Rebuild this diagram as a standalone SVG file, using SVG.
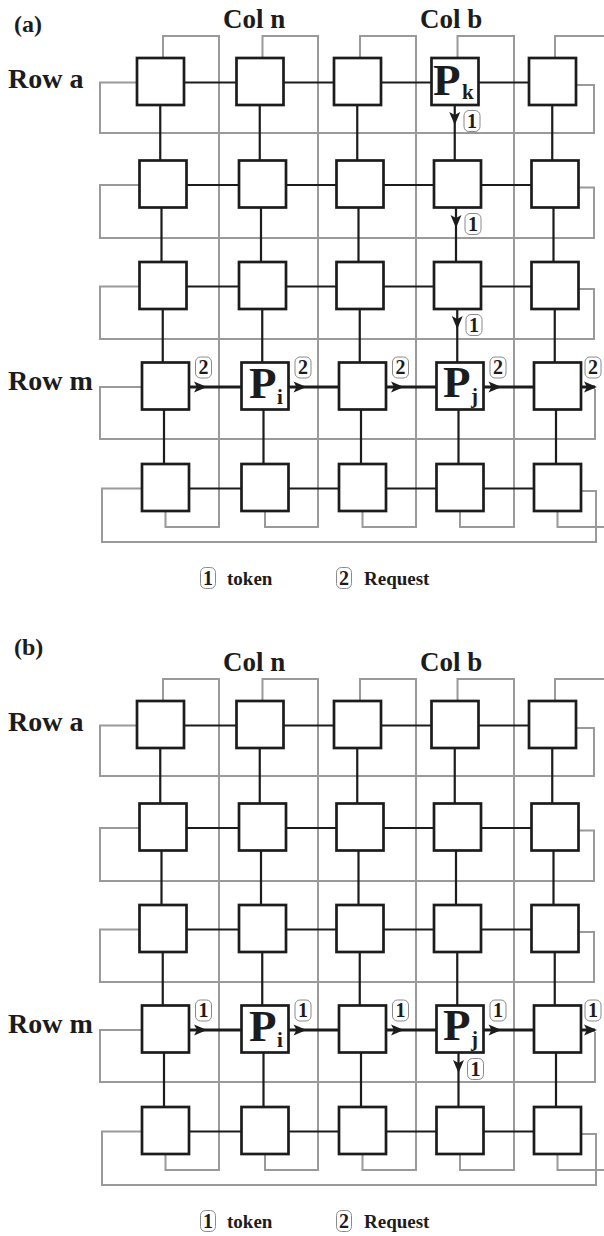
<svg xmlns="http://www.w3.org/2000/svg" width="604" height="1236" viewBox="0 0 604 1236">
  <style>
    .box { fill: #fff; stroke: #1c1c1c; stroke-width: 2.7; }
    .wire { fill: none; stroke: #1c1c1c; stroke-width: 2.2; }
    .wire.bold { stroke-width: 3; }
    .wrap { fill: none; stroke: #9a9a9a; stroke-width: 2; }
    .head { fill: #1c1c1c; }
    .lbl { font-family: "Liberation Serif", "Times New Roman", serif; font-weight: bold; fill: #1c1c1c; }
    .badge { fill: #fff; stroke: #8a8a8a; stroke-width: 1; }
    .bt { font-family: "Liberation Serif", "Times New Roman", serif; font-weight: bold; font-size: 20px; fill: #1c1c1c; text-anchor: middle; }
  </style>
  <defs>
    <path id="ahR" d="M0,0 L-13,-5.5 L-10,0 L-13,5.5 Z"/>
    <path id="ahD" d="M0,0 L-5.5,-13 L0,-10 L5.5,-13 Z"/>
    <!-- torus wrap-around links (gray) -->
    <g id="wraps" class="wrap">
      <path d="M137,82.5 H100 V133 H594 V85 H576"/>
      <path d="M139.5,185 H100 V238 H594 V187.5 H578.5"/>
      <path d="M139.5,286.5 H100 V339 H594 V289 H578.5"/>
      <path d="M142,387 H100 V439 H595 V389"/>
      <path d="M142,488.5 H102 V542 H596 V491 H581"/>
      <path d="M163,58 V36 H219 V527 H165.5 V511"/>
      <path d="M262.5,58 V36 H318 V527 H265 V511"/>
      <path d="M360,58 V36 H416 V527 H362.5 V511"/>
      <path d="M457.5,58 V36 H514 V527 H460 V511"/>
      <path d="M555,58 V36 H612 V527 H557.5 V511"/>
    </g>
    <!-- mesh links (black) -->
    <g id="mesh" class="wire">
      <path d="M184,82.5 H236.5 M283.5,82.5 H334 M381,82.5 H431.5 M478.5,82.5 H529"/>
      <path d="M186.5,185 H239 M286,185 H336.5 M383.5,185 H434 M481,185 H531.5"/>
      <path d="M186.5,286.5 H239 M286,286.5 H336.5 M383.5,286.5 H434 M481,286.5 H531.5"/>
      <path d="M189,488.5 H241.5 M288.5,488.5 H339 M386,488.5 H436.5 M483.5,488.5 H534"/>
      <path d="M160.25,105 V160.5 M161.5,207.5 V262 M162.75,309 V362.5 M164,409.5 V464"/>
      <path d="M259.75,105 V160.5 M261,207.5 V262 M262.25,309 V362.5 M263.5,409.5 V464"/>
      <path d="M357.25,105 V160.5 M358.5,207.5 V262 M359.75,309 V362.5 M361,409.5 V464"/>
      <path d="M454.75,105 V160.5 M456,207.5 V262 M457.25,309 V362.5 M458.5,409.5 V464"/>
      <path d="M552.25,105 V160.5 M553.5,207.5 V262 M554.75,309 V362.5 M556,409.5 V464"/>
      <path class="wire bold" d="M189,387 H241.5 M288.5,387 H339 M386,387 H436.5 M483.5,387 H534 M581,387 H595"/>
    </g>
  </defs>

  <!-- ===== Panel (a): token travels down column b, requests travel along row m ===== -->
  <g id="panel-a">
    <text class="lbl" x="14" y="32" font-size="24">(a)</text>
    <text class="lbl" x="223" y="28" font-size="27">Col n</text>
    <text class="lbl" x="420" y="28" font-size="27">Col b</text>
    <text class="lbl" x="8" y="88" font-size="28">Row a</text>
    <text class="lbl" x="8" y="390" font-size="28">Row m</text>

    <g id="a-connectors">
      <use href="#wraps"/>
      <use href="#mesh"/>
    </g>

    <g id="a-n11"><rect class="box" x="137" y="58" width="47" height="47"/></g>
    <g id="a-n12"><rect class="box" x="236.5" y="58" width="47" height="47"/></g>
    <g id="a-n13"><rect class="box" x="334" y="58" width="47" height="47"/></g>
    <g id="a-n14"><rect class="box" x="431.5" y="58" width="47" height="47"/>
      <text class="lbl" x="433" y="95" font-size="45">P</text><text class="lbl" x="462" y="99" font-size="21">k</text></g>
    <g id="a-n15"><rect class="box" x="529" y="58" width="47" height="47"/></g>

    <g id="a-n21"><rect class="box" x="139.5" y="160.5" width="47" height="47"/></g>
    <g id="a-n22"><rect class="box" x="239" y="160.5" width="47" height="47"/></g>
    <g id="a-n23"><rect class="box" x="336.5" y="160.5" width="47" height="47"/></g>
    <g id="a-n24"><rect class="box" x="434" y="160.5" width="47" height="47"/></g>
    <g id="a-n25"><rect class="box" x="531.5" y="160.5" width="47" height="47"/></g>

    <g id="a-n31"><rect class="box" x="139.5" y="262" width="47" height="47"/></g>
    <g id="a-n32"><rect class="box" x="239" y="262" width="47" height="47"/></g>
    <g id="a-n33"><rect class="box" x="336.5" y="262" width="47" height="47"/></g>
    <g id="a-n34"><rect class="box" x="434" y="262" width="47" height="47"/></g>
    <g id="a-n35"><rect class="box" x="531.5" y="262" width="47" height="47"/></g>

    <g id="a-n41"><rect class="box" x="142" y="362.5" width="47" height="47"/></g>
    <g id="a-n42"><rect class="box" x="241.5" y="362.5" width="47" height="47"/>
      <text class="lbl" x="249" y="398" font-size="45">P</text><text class="lbl" x="277" y="404" font-size="21">i</text></g>
    <g id="a-n43"><rect class="box" x="339" y="362.5" width="47" height="47"/></g>
    <g id="a-n44"><rect class="box" x="436.5" y="362.5" width="47" height="47"/>
      <text class="lbl" x="443" y="397" font-size="45">P</text><text class="lbl" x="471" y="403" font-size="21">j</text></g>
    <g id="a-n45"><rect class="box" x="534" y="362.5" width="47" height="47"/></g>

    <g id="a-n51"><rect class="box" x="142" y="464" width="47" height="47"/></g>
    <g id="a-n52"><rect class="box" x="241.5" y="464" width="47" height="47"/></g>
    <g id="a-n53"><rect class="box" x="339" y="464" width="47" height="47"/></g>
    <g id="a-n54"><rect class="box" x="436.5" y="464" width="47" height="47"/></g>
    <g id="a-n55"><rect class="box" x="534" y="464" width="47" height="47"/></g>

    <g id="a-flow">
      <use href="#ahD" class="head" x="454.75" y="125"/>
      <use href="#ahD" class="head" x="456" y="228"/>
      <use href="#ahD" class="head" x="457.25" y="329"/>
      <rect class="badge" x="464" y="110.5" width="16" height="21" rx="5"/><text class="bt" x="472" y="127.5">1</text>
      <rect class="badge" x="465" y="213.5" width="16" height="21" rx="5"/><text class="bt" x="473" y="230.5">1</text>
      <rect class="badge" x="466" y="314.5" width="16" height="21" rx="5"/><text class="bt" x="474" y="331.5">1</text>

      <use href="#ahR" class="head" x="207" y="387"/>
      <use href="#ahR" class="head" x="306.5" y="387"/>
      <use href="#ahR" class="head" x="404" y="387"/>
      <use href="#ahR" class="head" x="501.5" y="387"/>
      <use href="#ahR" class="head" x="597" y="387"/>
      <rect class="badge" x="195.5" y="357" width="16" height="21" rx="5"/><text class="bt" x="203.5" y="374">2</text>
      <rect class="badge" x="295" y="357" width="16" height="21" rx="5"/><text class="bt" x="303" y="374">2</text>
      <rect class="badge" x="392.5" y="357" width="16" height="21" rx="5"/><text class="bt" x="400.5" y="374">2</text>
      <rect class="badge" x="490" y="357" width="16" height="21" rx="5"/><text class="bt" x="498" y="374">2</text>
      <rect class="badge" x="585" y="357" width="16" height="21" rx="5"/><text class="bt" x="593" y="374">2</text>
    </g>

    <g id="a-legend">
      <rect class="badge" x="200.5" y="567.5" width="15" height="21" rx="5"/><text class="bt" x="208" y="584.5">1</text>
      <text class="lbl" x="227" y="585" font-size="19">token</text>
      <rect class="badge" x="336.5" y="567.5" width="15" height="21" rx="5"/><text class="bt" x="344" y="584.5">2</text>
      <text class="lbl" x="364" y="585" font-size="19">Request</text>
    </g>
  </g>

  <!-- ===== Panel (b): token passed along row m, then down from P_j ===== -->
  <g id="panel-b" transform="translate(0,643)">
    <text class="lbl" x="14" y="12" font-size="24">(b)</text>
    <text class="lbl" x="223" y="28" font-size="27">Col n</text>
    <text class="lbl" x="420" y="28" font-size="27">Col b</text>
    <text class="lbl" x="8" y="88" font-size="28">Row a</text>
    <text class="lbl" x="8" y="390" font-size="28">Row m</text>

    <g id="b-connectors">
      <use href="#wraps"/>
      <use href="#mesh"/>
    </g>

    <g id="b-n11"><rect class="box" x="137" y="58" width="47" height="47"/></g>
    <g id="b-n12"><rect class="box" x="236.5" y="58" width="47" height="47"/></g>
    <g id="b-n13"><rect class="box" x="334" y="58" width="47" height="47"/></g>
    <g id="b-n14"><rect class="box" x="431.5" y="58" width="47" height="47"/></g>
    <g id="b-n15"><rect class="box" x="529" y="58" width="47" height="47"/></g>

    <g id="b-n21"><rect class="box" x="139.5" y="160.5" width="47" height="47"/></g>
    <g id="b-n22"><rect class="box" x="239" y="160.5" width="47" height="47"/></g>
    <g id="b-n23"><rect class="box" x="336.5" y="160.5" width="47" height="47"/></g>
    <g id="b-n24"><rect class="box" x="434" y="160.5" width="47" height="47"/></g>
    <g id="b-n25"><rect class="box" x="531.5" y="160.5" width="47" height="47"/></g>

    <g id="b-n31"><rect class="box" x="139.5" y="262" width="47" height="47"/></g>
    <g id="b-n32"><rect class="box" x="239" y="262" width="47" height="47"/></g>
    <g id="b-n33"><rect class="box" x="336.5" y="262" width="47" height="47"/></g>
    <g id="b-n34"><rect class="box" x="434" y="262" width="47" height="47"/></g>
    <g id="b-n35"><rect class="box" x="531.5" y="262" width="47" height="47"/></g>

    <g id="b-n41"><rect class="box" x="142" y="362.5" width="47" height="47"/></g>
    <g id="b-n42"><rect class="box" x="241.5" y="362.5" width="47" height="47"/>
      <text class="lbl" x="249" y="398" font-size="45">P</text><text class="lbl" x="277" y="404" font-size="21">i</text></g>
    <g id="b-n43"><rect class="box" x="339" y="362.5" width="47" height="47"/></g>
    <g id="b-n44"><rect class="box" x="436.5" y="362.5" width="47" height="47"/>
      <text class="lbl" x="443" y="397" font-size="45">P</text><text class="lbl" x="471" y="403" font-size="21">j</text></g>
    <g id="b-n45"><rect class="box" x="534" y="362.5" width="47" height="47"/></g>

    <g id="b-n51"><rect class="box" x="142" y="464" width="47" height="47"/></g>
    <g id="b-n52"><rect class="box" x="241.5" y="464" width="47" height="47"/></g>
    <g id="b-n53"><rect class="box" x="339" y="464" width="47" height="47"/></g>
    <g id="b-n54"><rect class="box" x="436.5" y="464" width="47" height="47"/></g>
    <g id="b-n55"><rect class="box" x="534" y="464" width="47" height="47"/></g>

    <g id="b-flow">
      <use href="#ahR" class="head" x="207" y="387"/>
      <use href="#ahR" class="head" x="306.5" y="387"/>
      <use href="#ahR" class="head" x="404" y="387"/>
      <use href="#ahR" class="head" x="501.5" y="387"/>
      <use href="#ahR" class="head" x="597" y="387"/>
      <rect class="badge" x="195.5" y="357" width="16" height="21" rx="5"/><text class="bt" x="203.5" y="374">1</text>
      <rect class="badge" x="295" y="357" width="16" height="21" rx="5"/><text class="bt" x="303" y="374">1</text>
      <rect class="badge" x="392.5" y="357" width="16" height="21" rx="5"/><text class="bt" x="400.5" y="374">1</text>
      <rect class="badge" x="490" y="357" width="16" height="21" rx="5"/><text class="bt" x="498" y="374">1</text>
      <rect class="badge" x="585" y="357" width="16" height="21" rx="5"/><text class="bt" x="593" y="374">1</text>

      <use href="#ahD" class="head" x="458.5" y="430"/>
      <rect class="badge" x="467.5" y="415.5" width="16" height="21" rx="5"/><text class="bt" x="475.5" y="432.5">1</text>
    </g>

    <g id="b-legend">
      <rect class="badge" x="200.5" y="567.5" width="15" height="21" rx="5"/><text class="bt" x="208" y="584.5">1</text>
      <text class="lbl" x="227" y="585" font-size="19">token</text>
      <rect class="badge" x="336.5" y="567.5" width="15" height="21" rx="5"/><text class="bt" x="344" y="584.5">2</text>
      <text class="lbl" x="364" y="585" font-size="19">Request</text>
    </g>
  </g>
</svg>
